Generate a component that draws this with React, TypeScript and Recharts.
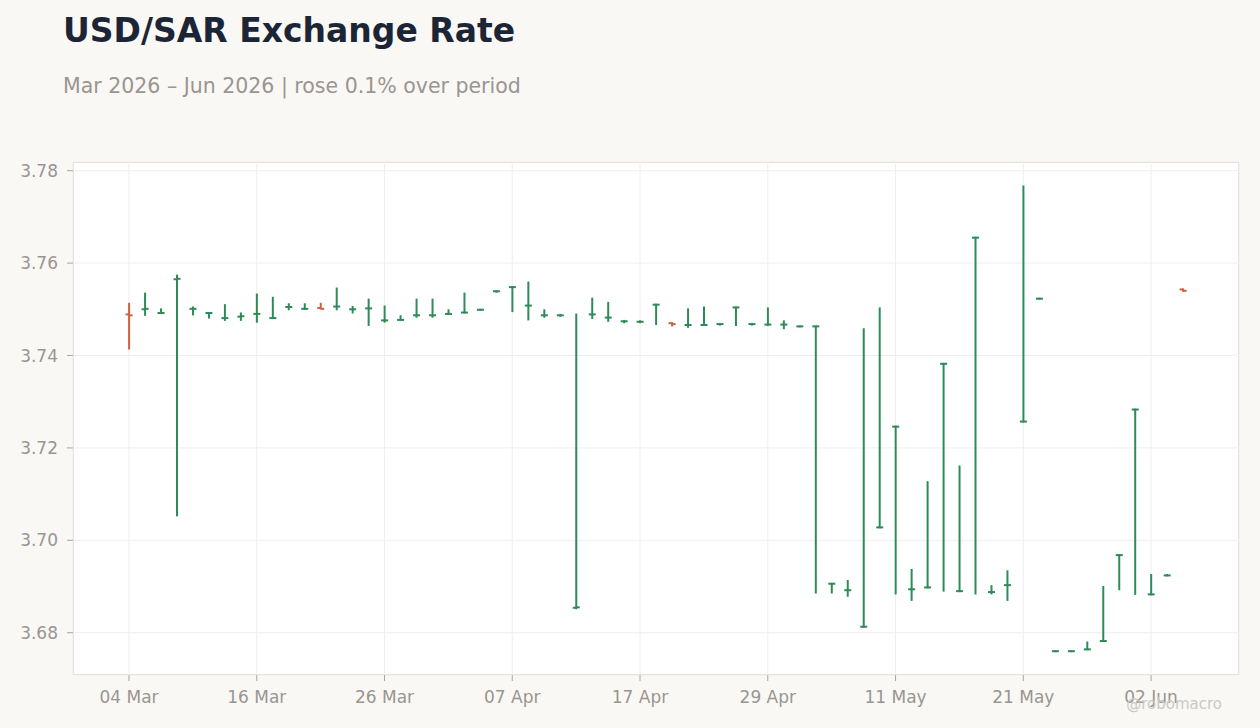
import React from "react";
import { ComposedChart, Bar, XAxis, YAxis, CartesianGrid } from "recharts";

const dates = [
  "04 Mar","05 Mar","06 Mar","09 Mar","10 Mar","11 Mar","12 Mar","13 Mar",
  "16 Mar","17 Mar","18 Mar","19 Mar","20 Mar","23 Mar","24 Mar","25 Mar",
  "26 Mar","27 Mar","30 Mar","31 Mar","01 Apr","02 Apr","03 Apr","06 Apr",
  "07 Apr","08 Apr","09 Apr","10 Apr","13 Apr","14 Apr","15 Apr","16 Apr",
  "17 Apr","20 Apr","21 Apr","22 Apr","23 Apr","24 Apr","27 Apr","28 Apr",
  "29 Apr","30 Apr","01 May","04 May","05 May","06 May","07 May","08 May",
  "11 May","12 May","13 May","14 May","15 May","18 May","19 May","20 May",
  "21 May","22 May","25 May","26 May","27 May","28 May","29 May","01 Jun",
  "02 Jun","03 Jun","04 Jun",
];

const openV = [
  3.7489,3.7500,3.7492,3.7565,3.7501,3.7492,3.7481,3.7484,
  3.7490,3.7481,3.7505,3.7501,3.7503,3.7506,3.7500,3.7502,
  3.7476,3.7477,3.7487,3.7487,3.7490,3.7493,3.7499,3.7539,
  3.7548,3.7508,3.7487,3.7487,3.6854,3.7489,3.7482,3.7474,
  3.7473,3.7510,3.7470,3.7466,3.7466,3.7468,3.7504,3.7468,
  3.7467,3.7467,3.7463,3.7463,3.6906,3.6892,3.6813,3.7028,
  3.7246,3.6894,3.6898,3.7382,3.6890,3.7655,3.6888,3.6903,
  3.7257,3.7523,3.6760,3.6760,3.6764,3.6782,3.6968,3.7283,
  3.6883,3.6924,3.7543,
];

const highV = [
  3.7513,3.7535,3.7501,3.7574,3.7505,3.7493,3.7510,3.7492,
  3.7533,3.7526,3.7512,3.7512,3.7513,3.7546,3.7506,3.7522,
  3.7507,3.7486,3.7522,3.7522,3.7499,3.7535,3.7500,3.7540,
  3.7549,3.7559,3.7499,3.7489,3.7490,3.7524,3.7515,3.7476,
  3.7475,3.7511,3.7471,3.7501,3.7505,3.7469,3.7505,3.7469,
  3.7503,3.7475,3.7464,3.7464,3.6907,3.6913,3.7458,3.7503,
  3.7247,3.6937,3.7127,3.7383,3.7161,3.7656,3.6902,3.6934,
  3.7767,3.7524,3.6761,3.6761,3.6780,3.6900,3.6969,3.7284,
  3.6926,3.6926,3.7544,
];

const lowV = [
  3.7414,3.7487,3.7491,3.7053,3.7488,3.7481,3.7476,3.7476,
  3.7472,3.7480,3.7499,3.7500,3.7501,3.7499,3.7492,3.7465,
  3.7472,3.7476,3.7483,3.7483,3.7489,3.7492,3.7498,3.7537,
  3.7495,3.7477,3.7483,3.7485,3.6852,3.7480,3.7474,3.7471,
  3.7471,3.7467,3.7464,3.7461,3.7465,3.7466,3.7465,3.7466,
  3.7465,3.7458,3.7462,3.6886,3.6886,3.6879,3.6812,3.7027,
  3.6884,3.6870,3.6897,3.6890,3.6889,3.6884,3.6884,3.6870,
  3.7256,3.7522,3.6759,3.6759,3.6763,3.6781,3.6893,3.6883,
  3.6882,3.6923,3.7539,
];

const closeV = [
  3.7487,3.7501,3.7492,3.7566,3.7501,3.7492,3.7481,3.7485,
  3.7490,3.7481,3.7505,3.7501,3.7501,3.7506,3.7500,3.7502,
  3.7476,3.7477,3.7487,3.7487,3.7490,3.7493,3.7499,3.7539,
  3.7548,3.7508,3.7487,3.7487,3.6855,3.7489,3.7482,3.7474,
  3.7473,3.7510,3.7468,3.7466,3.7466,3.7468,3.7504,3.7468,
  3.7467,3.7467,3.7463,3.7463,3.6906,3.6892,3.6813,3.7028,
  3.7246,3.6894,3.6898,3.7382,3.6890,3.7655,3.6888,3.6903,
  3.7257,3.7523,3.6760,3.6760,3.6764,3.6782,3.6968,3.7283,
  3.6883,3.6924,3.7540,
];

const xTicks = ["04 Mar","16 Mar","26 Mar","07 Apr","17 Apr","29 Apr","11 May","21 May","02 Jun"];
const yTicks = [3.68, 3.7, 3.72, 3.74, 3.76, 3.78];

const TITLE = "USD/SAR Exchange Rate";
const SUBTITLE = "Mar 2026 \u2013 Jun 2026 | rose 0.1% over period";
const WATERMARK = "@robomacro";

const GREEN = "#2e8b57";
const RED = "#d0603d";
const FONT = "'DejaVu Sans', sans-serif";

const data = dates.map((d, i) => ({
  date: d,
  open: openV[i],
  high: highV[i],
  low: lowV[i],
  close: closeV[i],
}));

const OHLCShape = (props: any) => {
  const { x, y, width, height, payload } = props;
  if (x == null || y == null) return null;
  const top = Math.min(y, y + height);
  const h = Math.abs(height);
  const cx = x + width / 2;
  const { open, high, low, close } = payload;
  const span = high - low || 1;
  const yOf = (v: number) => top + (h * (high - v)) / span;
  const color = close >= open ? GREEN : RED;
  const yo = yOf(open);
  const yc = yOf(close);
  return (
    <g>
      <line x1={cx} x2={cx} y1={top - 0.5} y2={top + h + 0.5} stroke={color} strokeWidth={2} />
      <line x1={cx - 3.5} x2={cx} y1={yo} y2={yo} stroke={color} strokeWidth={2} />
      <line x1={cx} x2={cx + 3.5} y1={yc} y2={yc} stroke={color} strokeWidth={2} />
    </g>
  );
};

export default function App() {
  return (
    <div
      style={{
        position: "absolute",
        left: 0,
        top: 0,
        width: 1260,
        height: 728,
        background: "#f9f8f5",
        fontFamily: FONT,
        overflow: "hidden",
      }}
    >
      <div
        style={{
          position: "absolute",
          left: 63,
          top: 14,
          fontSize: 33,
          lineHeight: "33px",
          fontWeight: 700,
          color: "#1c2535",
          whiteSpace: "nowrap",
        }}
      >
        {TITLE}
      </div>
      <div
        style={{
          position: "absolute",
          left: 63,
          top: 75.5,
          fontSize: 20.5,
          lineHeight: "20.5px",
          color: "#9a9590",
          whiteSpace: "nowrap",
        }}
      >
        {SUBTITLE}
      </div>
      <div
        style={{
          position: "absolute",
          left: 73,
          top: 162,
          width: 1166,
          height: 513,
          background: "#ffffff",
          border: "1px solid #ddd8d1",
          boxSizing: "border-box",
        }}
      />
      <div style={{ position: "absolute", left: 0, top: 0 }}>
        <ComposedChart
          width={1260}
          height={728}
          data={data}
          margin={{ top: 162, right: 21, bottom: 0, left: 0 }}
        >
          <CartesianGrid stroke="#efeeec" strokeWidth={1} />
          <XAxis
            dataKey="date"
            type="category"
            ticks={xTicks}
            interval={0}
            padding={{ left: 48, right: 48 }}
            height={53}
            axisLine={false}
            tickLine={{ stroke: "#a9a5a0" }}
            tickSize={6}
            tickMargin={10}
            tick={{ fill: "#9a9590", fontSize: 17, fontFamily: FONT }}
          />
          <YAxis
            type="number"
            domain={[3.67085, 3.78188]}
            allowDataOverflow
            ticks={yTicks}
            interval={0}
            width={73}
            axisLine={false}
            tickLine={{ stroke: "#a9a5a0" }}
            tickSize={6}
            tickMargin={9}
            tickFormatter={(v: number) => v.toFixed(2)}
            tick={{ fill: "#9a9590", fontSize: 17, fontFamily: FONT }}
          />
          <Bar
            dataKey={(d: any) => [d.low, d.high]}
            shape={OHLCShape}
            isAnimationActive={false}
          />
        </ComposedChart>
      </div>
      <div
        style={{
          position: "absolute",
          right: 38,
          top: 697,
          fontSize: 15,
          lineHeight: "15px",
          color: "#cdc9c4",
          whiteSpace: "nowrap",
        }}
      >
        {WATERMARK}
      </div>
    </div>
  );
}
